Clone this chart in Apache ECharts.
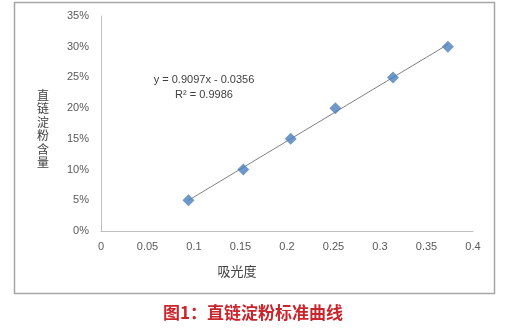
<!DOCTYPE html>
<html><head><meta charset="utf-8">
<script src="https://cdn.jsdelivr.net/npm/echarts@6/dist/echarts.min.js"></script>
<style>html,body{margin:0;padding:0;background:#fff}#c{width:515px;height:332px}</style>
</head><body><div id="c"></div>
<script>
const absorbance = [0.094, 0.153, 0.204, 0.252, 0.314, 0.373];
const amyloseContent = [0.05, 0.10, 0.15, 0.20, 0.25, 0.30];
const slope = 0.9097, intercept = -0.0356;
const trendX = [0.094, 0.373];
const yTicks = [0, 0.05, 0.10, 0.15, 0.20, 0.25, 0.30, 0.35];
const xAxisName = '吸光度';
const yAxisName = '直链淀粉含量';
const chartTitle = '图1：直链淀粉标准曲线';
const equationText = 'y = 0.9097x - 0.0356';
const r2Text = 'R² = 0.9986';

const chart = echarts.init(document.getElementById('c'));
const font = '"Liberation Sans","Noto Sans CJK SC",sans-serif';
chart.setOption({
  animation: false,
  grid: {left: 101, right: 42, top: 16, bottom: 101},
  xAxis: {
    type: 'value', min: 0, max: 0.4, interval: 0.05,
    axisLine: {show: true, lineStyle: {color: '#bfbfbf'}},
    axisTick: {show: false}, splitLine: {show: false},
    axisLabel: {color: '#595959', fontSize: 11, fontFamily: font, margin: 10,
      formatter: v => String(+v.toFixed(2))}
  },
  yAxis: {
    type: 'value', min: 0, max: 0.35, interval: 0.05,
    axisLine: {show: true, lineStyle: {color: '#bfbfbf'}},
    axisTick: {show: false}, splitLine: {show: false},
    axisLabel: {color: '#595959', fontSize: 11, fontFamily: font, margin: 12,
      formatter: v => Math.round(v * 100) + '%'}
  },
  series: [
    {type: 'line', data: trendX.map(x => [x, slope * x + intercept]), symbol: 'none',
      lineStyle: {color: '#808080', width: 1}, z: 1},
    {type: 'scatter', data: absorbance.map((x, i) => [x, amyloseContent[i]]),
      symbol: 'diamond', symbolSize: 12, itemStyle: {color: '#4a7ebb'}, z: 2}
  ],
  graphic: [
    {type: 'rect', shape: {x: 14.5, y: 2.5, width: 480, height: 291}, style: {fill: 'none', stroke: '#a6a6a6', lineWidth: 1.5}, silent: true},
    {type: 'text', x: 43, y: 129, style: {text: yAxisName.split('').join('\n'), fill: '#404040', fontSize: 12, fontFamily: '"Noto Sans CJK SC",sans-serif', lineHeight: 13.5, align: 'center', verticalAlign: 'middle'}},
    {type: 'text', x: 204, y: 80, style: {text: equationText, fill: '#404040', font: '11px ' + font, align: 'center', verticalAlign: 'middle'}},
    {type: 'text', x: 204, y: 95, style: {text: r2Text, fill: '#404040', font: '11px ' + font, align: 'center', verticalAlign: 'middle'}},
    {type: 'text', x: 237, y: 271, style: {text: xAxisName, fill: '#404040', font: '13px "Noto Sans CJK SC",sans-serif', align: 'center', verticalAlign: 'middle'}},
    {type: 'text', x: 253, y: 313, style: {text: chartTitle, fill: '#c9252c', font: 'bold 17px "Noto Sans CJK SC",sans-serif', align: 'center', verticalAlign: 'middle'}}
  ]
});
</script></body></html>
